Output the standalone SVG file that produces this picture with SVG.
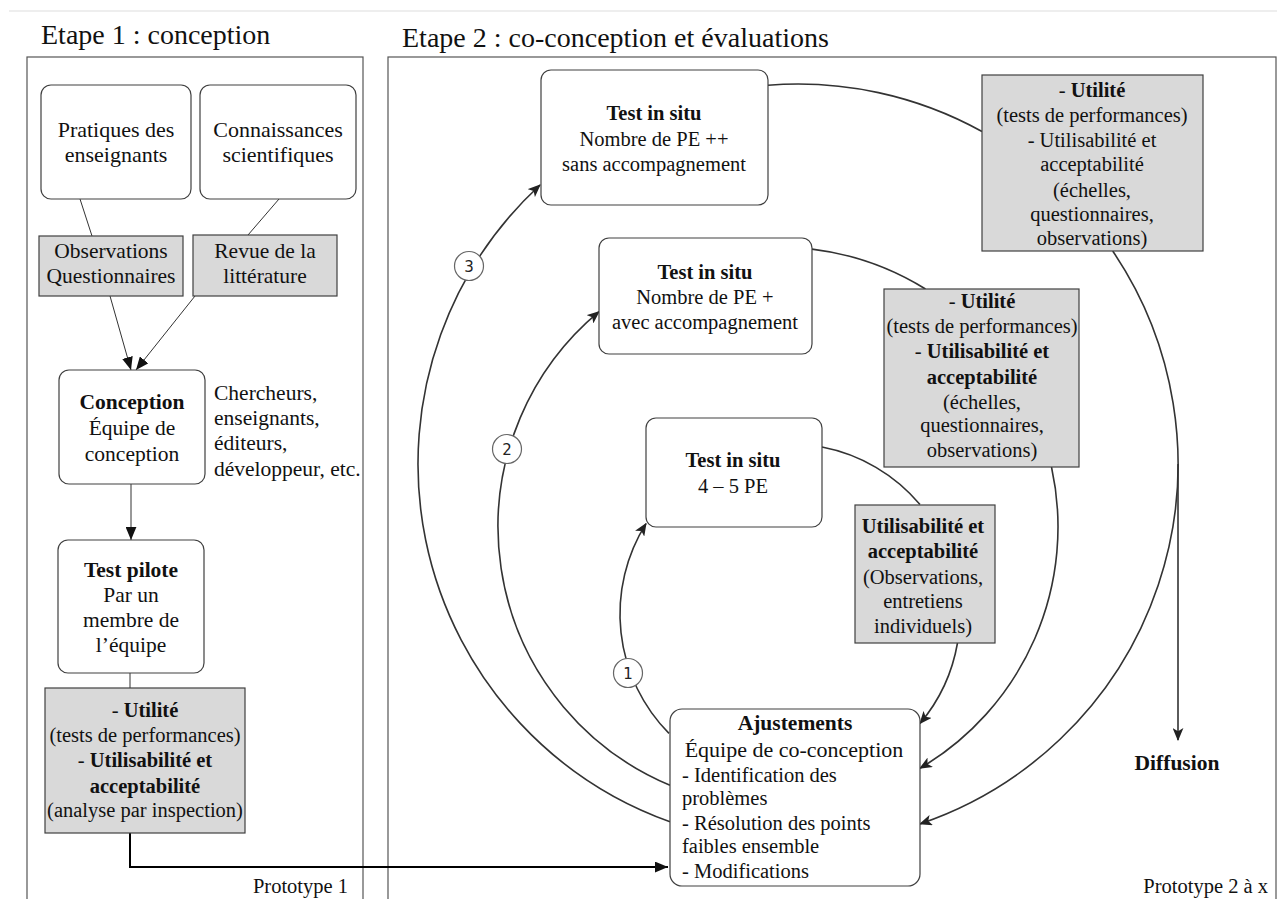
<svg xmlns="http://www.w3.org/2000/svg" width="1277" height="899" viewBox="0 0 1277 899">
<style>
text{font-family:"Liberation Serif","Times New Roman",serif;font-size:20.5px;fill:#111}
.c{text-anchor:middle}
.b{font-weight:bold}
.t{font-size:28px}
.l{font-size:22px}
.m{font-size:21.5px}
.box{fill:#fff;stroke:#404040;stroke-width:1.2}
.g{fill:#d9d9d9;stroke:#404040;stroke-width:1.2}
.fr{fill:none;stroke:#555;stroke-width:1.2}
.ln{fill:none;stroke:#333;stroke-width:1}
.arc{fill:none;stroke:#333;stroke-width:1.6}
.num{fill:#fff;stroke:#666;stroke-width:1.2}
.nt{font-family:"DejaVu Sans",sans-serif;font-size:15px;text-anchor:middle;fill:#222}
</style>
<defs>
<marker id="ah" viewBox="0 0 12 10" refX="11" refY="5" markerWidth="13" markerHeight="11" orient="auto" markerUnits="userSpaceOnUse"><path d="M0,0 L12,5 L0,10 L3,5 z" fill="#222"/></marker>
<marker id="at" viewBox="0 0 12 10" refX="12" refY="5" markerWidth="13" markerHeight="11" orient="auto" markerUnits="userSpaceOnUse"><path d="M0,0 L12,5 L0,10 z" fill="#111"/></marker>
</defs>
<rect width="1277" height="899" fill="#fff"/>
<line x1="9" y1="11" x2="1277" y2="11" stroke="#ddd" stroke-width="1"/>

<g id="titles">
<text class="t" x="41" y="44">Etape 1 : conception</text>
<text class="t" x="402" y="47">Etape 2 : co-conception et évaluations</text>
</g>
<g id="frames">
<rect class="fr" x="27" y="57" width="336" height="860"/>
<rect class="fr" x="388" y="57" width="888" height="860"/>
<text x="348" y="893" text-anchor="end">Prototype 1</text>
<text x="1268" y="893" text-anchor="end">Prototype 2 à x</text>
</g>

<g id="connectors">
<line class="ln" x1="80" y1="199" x2="92" y2="236"/>
<line class="ln" x1="279" y1="199" x2="248" y2="235"/>
<line class="ln" x1="110" y1="296" x2="131" y2="370" marker-end="url(#at)"/>
<line class="ln" x1="195" y1="296" x2="136" y2="370" marker-end="url(#at)"/>
<line class="ln" x1="131" y1="484" x2="131" y2="540" marker-end="url(#at)"/>
<line class="ln" x1="130" y1="673" x2="130" y2="688"/>
<path d="M130,833 L130,867 L668,867" fill="none" stroke="#000" stroke-width="2" marker-end="url(#at)"/>

<path class="arc" d="M669,733.4 A170,170 0 0 1 646,523.6" marker-end="url(#ah)"/>
<path class="arc" d="M822,447 A170,170 0 0 1 920,504.5"/>
<path class="arc" d="M957.5,643 A170,170 0 0 1 920,723.5" marker-end="url(#ah)"/>

<path class="arc" d="M670,785.3 A280,280 0 0 1 599,311.7" marker-end="url(#ah)"/>
<path class="arc" d="M812,249.1 A280,280 0 0 1 925.5,289"/>
<path class="arc" d="M1051.5,467 A280,280 0 0 1 920,768.3" marker-end="url(#ah)"/>

<path class="arc" d="M670,821.8 A380,380 0 0 1 540,185" marker-end="url(#ah)"/>
<path class="arc" d="M768,85.2 A380,380 0 0 1 982,131.5"/>
<path class="arc" d="M1112.7,251 A380,380 0 0 1 920,823.9" marker-end="url(#ah)"/>
<line class="arc" x1="1178" y1="464" x2="1178" y2="740" marker-end="url(#ah)"/>

<circle class="num" cx="628" cy="673" r="14.5"/><text class="nt" x="628" y="678.5">1</text>
<circle class="num" cx="507" cy="449" r="14.5"/><text class="nt" x="507" y="454.5">2</text>
<circle class="num" cx="469" cy="266" r="14.5"/><text class="nt" x="469" y="271.5">3</text>
</g>

<g id="n-pratiques">
<rect class="box" x="41" y="85" width="150" height="114" rx="10"/>
<text class="c l" x="116" y="137">Pratiques des</text>
<text class="c l" x="116" y="162">enseignants</text>
</g>
<g id="n-connaissances">
<rect class="box" x="200" y="85" width="156" height="114" rx="10"/>
<text class="c l" x="278" y="137">Connaissances</text>
<text class="c l" x="278" y="162">scientifiques</text>
</g>
<g id="n-observations">
<rect class="g" x="39" y="236" width="144" height="60"/>
<text class="c m" x="111" y="258">Observations</text>
<text class="c m" x="111" y="283">Questionnaires</text>
</g>
<g id="n-revue">
<rect class="g" x="193" y="235" width="144" height="61"/>
<text class="c m" x="265" y="258">Revue de la</text>
<text class="c m" x="265" y="283">littérature</text>
</g>
<g id="n-conception">
<rect class="box" x="59" y="370" width="146" height="114" rx="10"/>
<text class="c b m" x="132" y="409">Conception</text>
<text class="c m" x="132" y="435">Équipe de</text>
<text class="c m" x="132" y="461">conception</text>
</g>
<g id="n-acteurs">
<text class="m" x="214" y="400">Chercheurs,</text>
<text class="m" x="214" y="425">enseignants,</text>
<text class="m" x="214" y="450">éditeurs,</text>
<text class="m" x="214" y="476">développeur, etc.</text>
</g>
<g id="n-pilote">
<rect class="box" x="58" y="540" width="146" height="133" rx="10"/>
<text class="c b m" x="131" y="577">Test pilote</text>
<text class="c m" x="131" y="602">Par un</text>
<text class="c m" x="131" y="627">membre de</text>
<text class="c m" x="131" y="652">l’équipe</text>
</g>
<g id="n-eval1">
<rect class="g" x="45" y="688" width="200" height="145"/>
<text class="c" x="145" y="717">- <tspan class="b">Utilité</tspan></text>
<text class="c" x="145" y="742">(tests de performances)</text>
<text class="c" x="145" y="767">- <tspan class="b">Utilisabilité et</tspan></text>
<text class="c b" x="145" y="793">acceptabilité</text>
<text class="c" x="145" y="817">(analyse par inspection)</text>
</g>

<g id="n-test3">
<rect class="box" x="541" y="70" width="227" height="135" rx="10"/>
<text class="c b" x="654" y="120">Test in situ</text>
<text class="c" x="654" y="146">Nombre de PE ++</text>
<text class="c" x="654" y="171">sans accompagnement</text>
</g>
<g id="n-test2">
<rect class="box" x="599" y="238" width="213" height="116" rx="10"/>
<text class="c b" x="705" y="279">Test in situ</text>
<text class="c" x="705" y="304">Nombre de PE +</text>
<text class="c" x="705" y="329">avec accompagnement</text>
</g>
<g id="n-test1">
<rect class="box" x="646" y="418" width="176" height="109" rx="10"/>
<text class="c b" x="733" y="467">Test in situ</text>
<text class="c" x="733" y="493">4 – 5 PE</text>
</g>
<g id="n-ajustements">
<rect class="box" x="670" y="709" width="250" height="177" rx="12"/>
<text class="c b m" x="795" y="730">Ajustements</text>
<text class="c l" x="794" y="757">Équipe de co-conception</text>
<text x="682" y="782">- Identification des</text>
<text x="682" y="805">problèmes</text>
<text x="682" y="830">- Résolution des points</text>
<text x="682" y="853">faibles ensemble</text>
<text x="682" y="878">- Modifications</text>
</g>
<g id="n-eval-top">
<rect class="g" x="982" y="75" width="221" height="176"/>
<text class="c" x="1092" y="97">- <tspan class="b">Utilité</tspan></text>
<text class="c" x="1092" y="122">(tests de performances)</text>
<text class="c" x="1092" y="147">- Utilisabilité et</text>
<text class="c" x="1092" y="171">acceptabilité</text>
<text class="c" x="1092" y="197">(échelles,</text>
<text class="c" x="1092" y="221">questionnaires,</text>
<text class="c" x="1092" y="245">observations)</text>
</g>
<g id="n-eval-mid">
<rect class="g" x="884" y="289" width="195" height="178"/>
<text class="c" x="982" y="308">- <tspan class="b">Utilité</tspan></text>
<text class="c" x="982" y="333">(tests de performances)</text>
<text class="c" x="982" y="358">- <tspan class="b">Utilisabilité et</tspan></text>
<text class="c b" x="982" y="384">acceptabilité</text>
<text class="c" x="982" y="409">(échelles,</text>
<text class="c" x="982" y="432">questionnaires,</text>
<text class="c" x="982" y="457">observations)</text>
</g>
<g id="n-eval-low">
<rect class="g" x="855" y="505" width="140" height="138"/>
<text class="c b" x="923" y="533">Utilisabilité et</text>
<text class="c b" x="923" y="558">acceptabilité</text>
<text class="c" x="923" y="584">(Observations,</text>
<text class="c" x="923" y="608">entretiens</text>
<text class="c" x="923" y="633">individuels)</text>
</g>
<g id="n-diffusion">
<text class="c b m" x="1177" y="770">Diffusion</text>
</g>
</svg>
